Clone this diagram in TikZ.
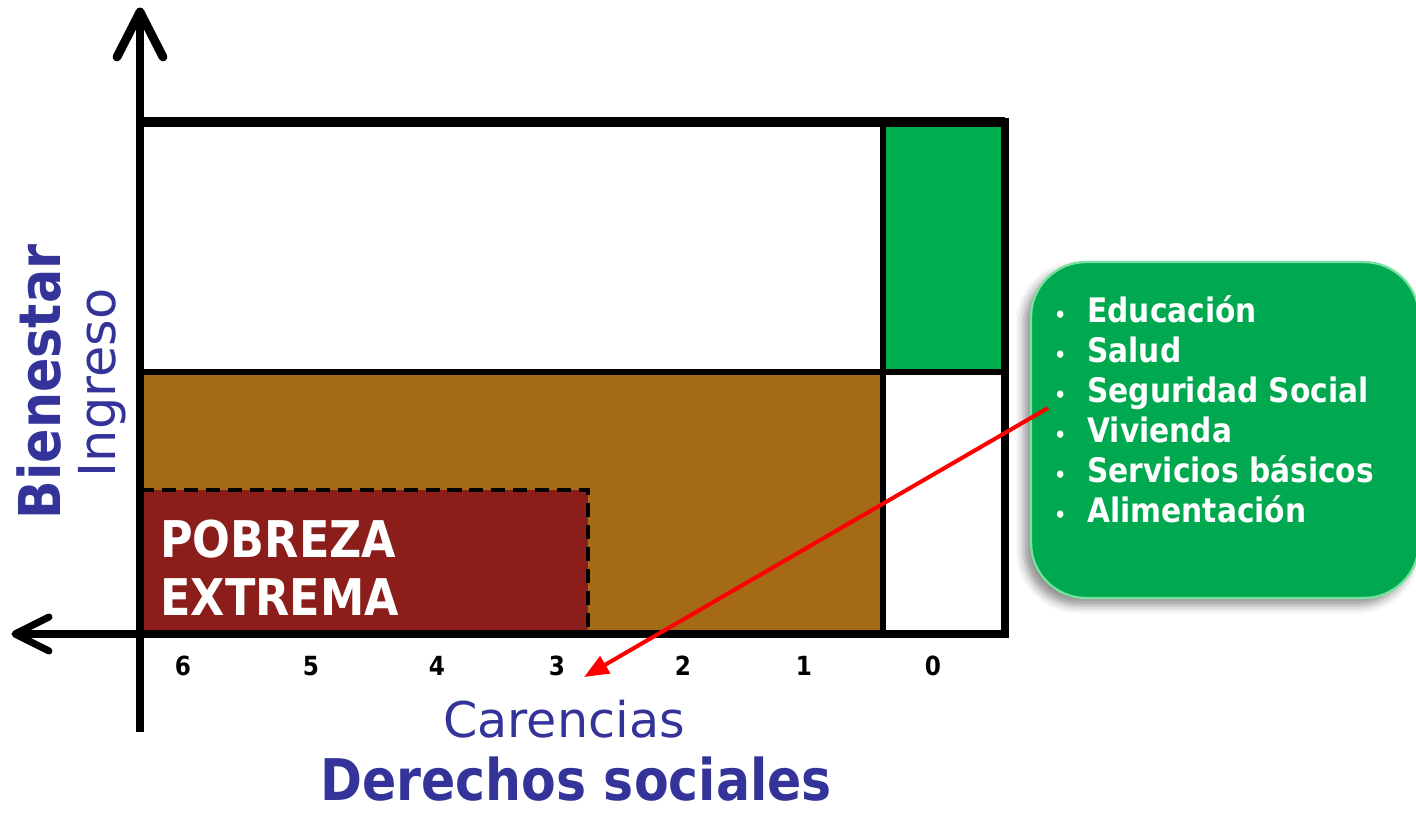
\documentclass[tikz,border=0pt]{standalone}
\usepackage{fontspec}
\setmainfont{DejaVu Sans}
\newfontfamily\tahb[FakeStretch=0.88]{DejaVu Sans}
\usetikzlibrary{arrows.meta,shadows.blur}
\definecolor{navy}{RGB}{51,51,153}
\definecolor{brownfill}{RGB}{165,106,22}
\definecolor{darkred}{RGB}{139,30,26}
\definecolor{cellgreen}{RGB}{0,173,79}
\definecolor{boxgreen}{RGB}{0,168,79}
\definecolor{boxedge}{RGB}{120,225,160}
\begin{document}
\begin{tikzpicture}[x=0.02cm,y=-0.02cm,
  frame/.style={line width=4.2pt, line join=miter},
  divider/.style={line width=3.4pt},
  axis/.style={line width=5pt, line cap=butt},
  barb/.style={line width=5pt, line cap=round, line join=round},
  dashedge/.style={line width=2.8pt, dash pattern=on 8pt off 4.5pt},
  navylabel/.style={text=navy, inner sep=0pt},
  num/.style={font=\tahb\bfseries\fontsize{15pt}{17pt}\selectfont, inner sep=0pt, anchor=base},
  whitebold/.style={text=white, inner sep=0pt, anchor=base west, font=\tahb\bfseries\fontsize{28.8pt}{33pt}\selectfont},
  listitem/.style={text=white, inner sep=0pt, anchor=base west, font=\tahb\bfseries\fontsize{19.2pt}{22pt}\selectfont},
  callout/.style={fill=boxgreen, draw=boxedge, line width=1.3pt, rounded corners=1.1cm,
    minimum width=7.76cm, minimum height=6.72cm, inner sep=0pt,
    blur shadow={shadow xshift=-4pt, shadow yshift=-4pt, shadow blur radius=5pt, shadow opacity=45}},
  redarrow/.style={red, line width=2.3pt, -{Triangle[length=14pt,width=11pt]}}
]
\useasboundingbox (0,0) rectangle (1416,812);

% fills
\fill[cellgreen] (883,122) rectangle (1005,372);
\fill[brownfill] (140,372) rectangle (883,634);
\fill[darkred] (140,490) rectangle (588,634);

% dashed border of extreme poverty
\draw[dashedge] (140,490) -- (588,490) -- (588,634);

% frame and dividers
\draw[divider] (883,122) -- (883,634);
\draw[divider] (140,372) -- (1005,372);
\draw[frame] (140,122) rectangle (1005,634);
\draw[line width=6pt] (140,122) -- (1005,122);

% axes
\coordinate (ytip) at (140,12);
\coordinate (xtip) at (15,634);
\draw[axis] (140,732) -- (ytip);
\draw[barb] (117,57) -- (ytip) -- (163,57);
\draw[line width=4pt] (1005,634) -- (xtip);
\draw[barb, line width=4pt] (49,617) -- (xtip) -- (49,651);

% text in poverty box
\node[whitebold] (pob1) at (160,557) {POBREZA};
\node[whitebold] (pob2) at (160,615) {EXTREMA};

% numbers
\foreach \x/\n in {183/6,311/5,437/4,557/3,683/2,804/1,933/0}
  \node[num] (c\n) at (\x,675) {\n};

% axis labels
\node[navylabel, rotate=90, anchor=base, font=\tahb\bfseries\fontsize{32.8pt}{38pt}\selectfont] (bien) at (60,382) {Bienestar};
\node[navylabel, rotate=90, anchor=base, font=\fontsize{29pt}{34pt}\selectfont] (ingr) at (115,383) {Ingreso};
\node[navylabel, anchor=base, font=\fontsize{28pt}{33pt}\selectfont] (car) at (564,737) {Carencias};
\node[navylabel, anchor=base, font=\tahb\bfseries\fontsize{32.7pt}{38pt}\selectfont] (der) at (576,800) {Derechos sociales};

% callout
\node[callout] (box) at (1225,430) {};
\foreach \t [count=\i] in {Educación,Salud,Seguridad Social,Vivienda,Servicios básicos,Alimentación}
  \node[listitem] (li\i) at (1087,{322+40*(\i-1)}) {\llap{\fontsize{12pt}{14pt}\selectfont•\hspace{12pt}}\t};

% red arrow
\coordinate (as) at (1048,408);
\coordinate (ae) at (584,677);
\draw[redarrow] (as) -- (ae);
\end{tikzpicture}
\end{document}
